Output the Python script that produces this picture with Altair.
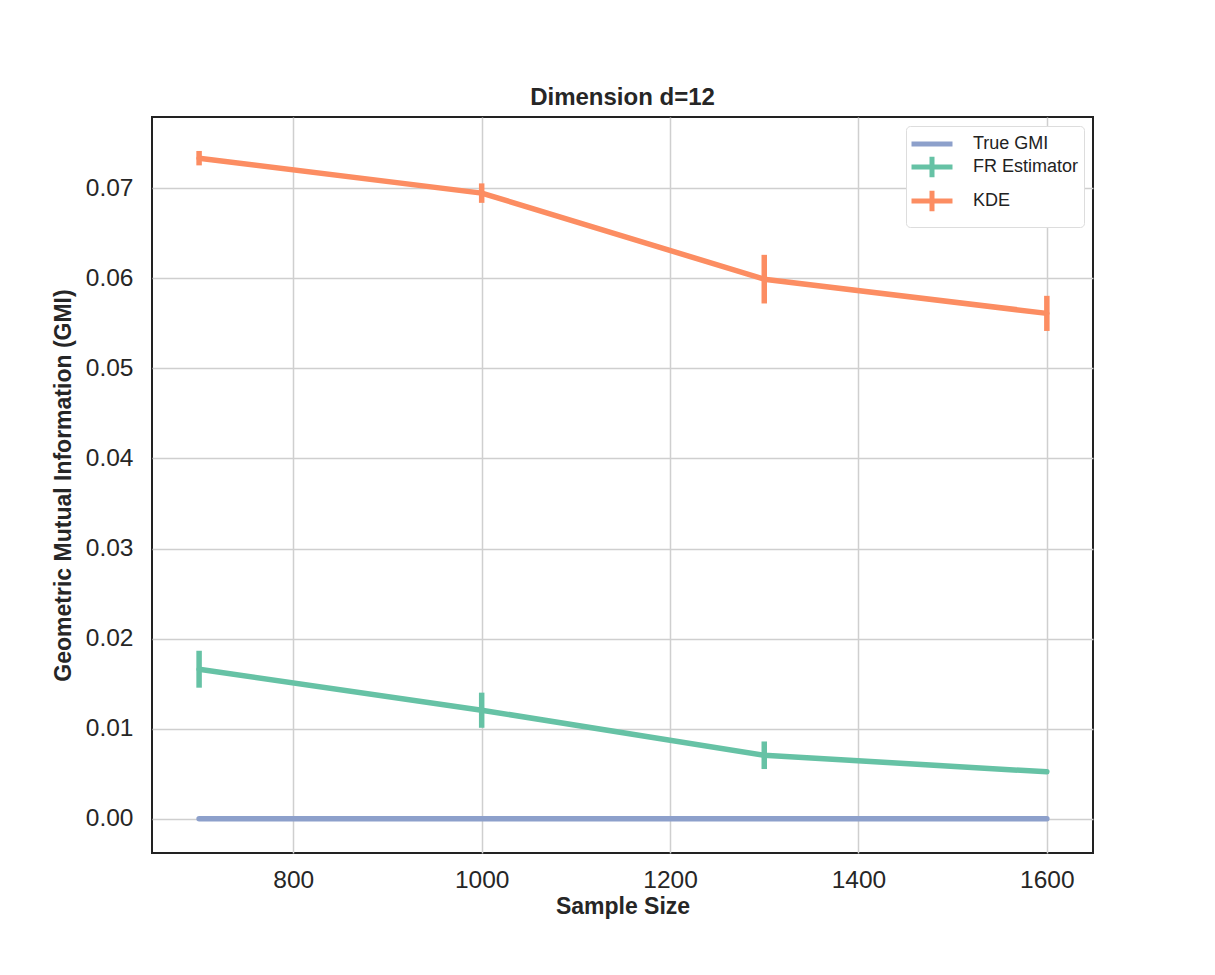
import altair as alt
import pandas as pd

sizes = [700, 1000, 1300, 1600]
series_names = ["True GMI", "FR Estimator", "KDE"]
series_colors = ["#8da0cb", "#66c2a5", "#fc8d62"]
true_gmi = [0.0, 0.0, 0.0, 0.0]
fr_mean = [0.01660, 0.01205, 0.00705, 0.00521]
fr_err = [0.00205, 0.00195, 0.00153, 0.0]
kde_mean = [0.07333, 0.06945, 0.05990, 0.05610]
kde_err = [0.00080, 0.00108, 0.00270, 0.00195]
x_ticks = [800, 1000, 1200, 1400, 1600]
y_ticks = [0.0, 0.01, 0.02, 0.03, 0.04, 0.05, 0.06, 0.07]
legend_shapes = ["M-2,0H2", "M-2,0H2M0,-1V1", "M-2,0H2M0,-1V1"]

rows = []
for name, means, errs in [("True GMI", true_gmi, [0, 0, 0, 0]),
                          ("FR Estimator", fr_mean, fr_err),
                          ("KDE", kde_mean, kde_err)]:
    for s, m, e in zip(sizes, means, errs):
        rows.append({"size": s, "value": m, "lo": m - e, "hi": m + e,
                     "series": name, "has_err": e > 0})
df = pd.DataFrame(rows)

xscale = alt.Scale(domain=[650, 1649], nice=False, zero=False)
yscale = alt.Scale(domain=[-0.0038, 0.0779], nice=False, zero=False)
cscale = alt.Scale(domain=series_names, range=series_colors)
# separate (reversed-order) scale for the drawn marks so its hidden legend
# does not get merged with the visible one
sscale = alt.Scale(domain=series_names[::-1], range=series_colors[::-1])

x_enc = alt.X("size:Q", scale=xscale,
              axis=alt.Axis(values=x_ticks, title="Sample Size", format="d"))
y_enc = alt.Y("value:Q", scale=yscale,
              axis=alt.Axis(values=y_ticks, format=".2f",
                            title="Geometric Mutual Information (GMI)"))

legend_cfg = dict(
    title=None, orient="top-right", offset=9,
    symbolSize=420, symbolStrokeWidth=5, symbolOpacity=1,
    symbolFillColor="transparent", symbolOffset=8,
    labelFontSize=18, labelFont="Liberation Sans",
    labelColor="#222222", labelOffset=28,
    fillColor="white", strokeColor="#dddddd",
    cornerRadius=4, padding=5, rowPadding=-10,
)

base = alt.Chart(df)

lines = base.mark_line(strokeWidth=5.5, strokeCap="round", strokeJoin="round").encode(
    x=x_enc, y=y_enc,
    stroke=alt.Stroke("series:N", scale=sscale, legend=None),
    detail="series:N",
    order="size:Q",
)

errbars = base.transform_filter("datum.has_err").mark_rule(strokeWidth=5.5).encode(
    x="size:Q",
    y=alt.Y("lo:Q", scale=yscale),
    y2="hi:Q",
    stroke=alt.Stroke("series:N", scale=sscale, legend=None),
)

legend_pts = base.mark_point(size=0, filled=False, strokeWidth=5, opacity=1).encode(
    x="size:Q",
    y="value:Q",
    color=alt.Color("series:N", scale=cscale, legend=alt.Legend(**legend_cfg)),
    shape=alt.Shape("series:N",
                    scale=alt.Scale(domain=series_names, range=legend_shapes),
                    legend=alt.Legend(**legend_cfg)),
)

chart = alt.layer(lines, errbars, legend_pts).properties(
    width=941, height=736,
    title=alt.TitleParams("Dimension d=12", fontSize=24, fontWeight="bold",
                          font="Liberation Sans", color="#262626", offset=7,
                          anchor="middle"),
    autosize=alt.AutoSizeParams(type="none"),
    padding={"left": 152, "top": 117, "right": 122, "bottom": 122},
).configure_view(
    stroke="#222222", strokeWidth=2,
).configure_axis(
    labelFont="Liberation Sans", labelFontSize=24.5, labelColor="#262626",
    titleFont="Liberation Sans", titleFontSize=23, titleFontWeight="bold",
    titleColor="#262626", grid=True, gridColor="#cfcfcf", gridWidth=1.5,
    domain=False, ticks=False,
).configure_axisX(labelPadding=15, titlePadding=4).configure_axisY(
    labelPadding=19, titlePadding=10)

chart.save("out.html", embed_options={"renderer": "svg", "actions": False})
